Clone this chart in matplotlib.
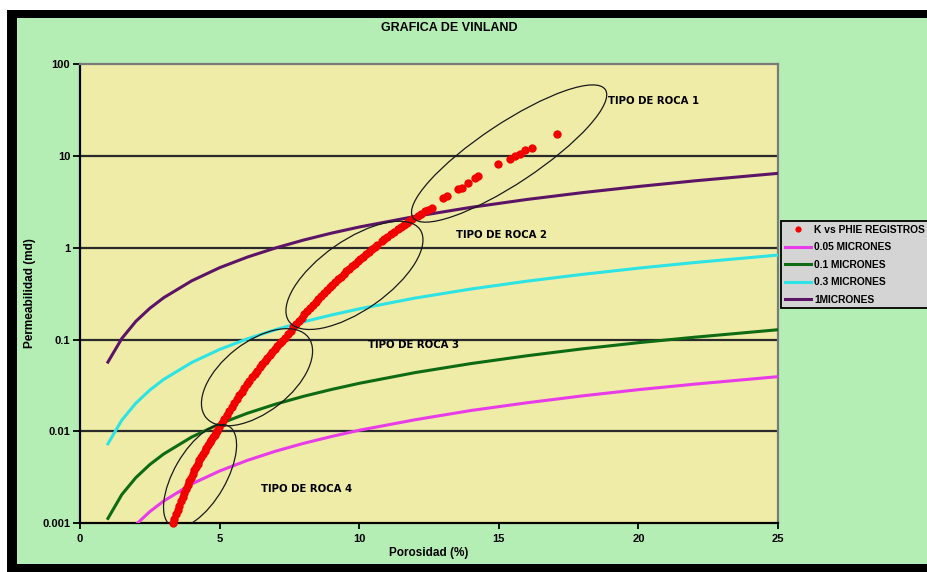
import matplotlib
matplotlib.use("Agg")
import matplotlib.pyplot as plt
from matplotlib.patches import Ellipse, Rectangle
from matplotlib.transforms import ScaledTranslation
from matplotlib.lines import Line2D

# ---------------- data ----------------
phi_curve = [1, 1.5, 2, 2.5, 3, 4, 5, 6, 7, 8, 9, 10, 12, 14, 16, 18, 20, 22, 25]
k_1um = [0.0569, 0.103, 0.158, 0.219, 0.286, 0.436, 0.606, 0.792, 0.993, 1.21,
         1.44, 1.68, 2.19, 2.75, 3.35, 3.98, 4.64, 5.34, 6.45]
k_03um = [0.00734, 0.0133, 0.0203, 0.0282, 0.0369, 0.0563, 0.0781, 0.102, 0.128,
          0.156, 0.185, 0.216, 0.283, 0.355, 0.432, 0.513, 0.599, 0.689, 0.832]
k_01um = [0.00113, 0.00206, 0.00314, 0.00436, 0.00569, 0.00869, 0.0121, 0.0158,
          0.0198, 0.0241, 0.0286, 0.0334, 0.0437, 0.0548, 0.0666, 0.0793, 0.0925,
          0.106, 0.128]
phi_005 = [2, 2.5, 3, 4, 5, 6, 7, 8, 9, 10, 12, 14, 16, 18, 20, 22, 25]
k_005um = [0.000966, 0.00134, 0.00175, 0.00268, 0.00371, 0.00485, 0.00609, 0.00741,
           0.00880, 0.0103, 0.0134, 0.0169, 0.0205, 0.0244, 0.0285, 0.0327, 0.0395]

# K vs PHIE REGISTROS (log samples)
phie_reg = [3.32, 3.38, 3.44, 3.50, 3.56, 3.62, 3.68, 3.74, 3.80, 3.86, 3.92, 3.98,
            4.04, 4.10, 4.16, 4.22, 4.28, 4.34, 4.40, 4.46, 4.52, 4.58, 4.64, 4.70,
            4.76, 4.82, 4.88,
            4.90, 4.99, 5.08, 5.17, 5.26, 5.35, 5.44, 5.53, 5.62, 5.71, 5.80, 5.89,
            5.98, 6.07, 6.16, 6.25, 6.34, 6.43, 6.52, 6.61, 6.70, 6.79, 6.88, 6.97,
            7.06, 7.15, 7.24,
            7.34, 7.44, 7.54, 7.64, 7.74, 7.84, 7.94, 8.04, 8.14, 8.24, 8.34, 8.44,
            8.54, 8.64, 8.74, 8.84, 8.94, 9.04, 9.14, 9.24, 9.34, 9.44, 9.54, 9.64,
            9.74, 9.84, 9.94, 10.04, 10.14, 10.24, 10.34,
            10.45, 10.55, 10.65, 10.80, 10.90, 11.00, 11.15, 11.25, 11.40, 11.50,
            11.60, 11.70, 11.80, 11.90, 12.10, 12.20,
            12.36, 12.45, 12.61, 13.00, 13.14, 13.54, 13.68, 13.90, 14.15, 14.25,
            14.97, 15.40, 15.58, 15.76, 15.94, 16.19, 17.08]
k_reg = [0.00100, 0.00112, 0.00126, 0.00140, 0.00156, 0.00174, 0.00193, 0.00214,
         0.00236, 0.00260, 0.00286, 0.00314, 0.00344, 0.00376, 0.00410, 0.00446,
         0.00484, 0.00525, 0.00568, 0.00612, 0.00659, 0.00708, 0.00759, 0.00812,
         0.00867, 0.00923, 0.00981,
         0.0100, 0.0111, 0.0124, 0.0137, 0.0152, 0.0168, 0.0186, 0.0205, 0.0226,
         0.0248, 0.0272, 0.0298, 0.0326, 0.0356, 0.0388, 0.0423, 0.0460, 0.0499,
         0.0540, 0.0585, 0.0632, 0.0681, 0.0734, 0.0788, 0.0847, 0.0907, 0.0971,
         0.105, 0.115, 0.125, 0.136, 0.148, 0.160, 0.173, 0.188, 0.203, 0.220,
         0.237, 0.256, 0.276, 0.297, 0.320, 0.343, 0.369, 0.395, 0.424, 0.454,
         0.485, 0.518, 0.553, 0.590, 0.628, 0.669, 0.711, 0.755, 0.802, 0.850,
         0.900,
         0.959, 1.016, 1.076, 1.173, 1.243, 1.309, 1.413, 1.486, 1.603, 1.687,
         1.774, 1.866, 1.963, 2.065, 2.20, 2.30,
         2.52, 2.60, 2.72, 3.50, 3.67, 4.38, 4.49, 5.09, 5.77, 6.06,
         8.19, 9.27, 10.0, 10.5, 11.6, 12.2, 17.3]

series_labels = ["K vs PHIE REGISTROS", "0.05 MICRONES", "0.1 MICRONES",
                 "0.3 MICRONES", "1MICRONES"]
y_ticks = [0.001, 0.01, 0.1, 1, 10, 100]
y_ticklabels = ["0.001", "0.01", "0.1", "1", "10", "100"]
x_ticks = [0, 5, 10, 15, 20, 25]

rock_labels = ["TIPO DE ROCA 1", "TIPO DE ROCA 2", "TIPO DE ROCA 3", "TIPO DE ROCA 4"]
rock_label_pos = [(18.9, 40.0), (13.45, 1.36), (10.3, 0.087), (6.5, 0.00236)]
# ellipses: centre (data), width px, height px, angle deg
ellipses = [((15.37, 10.6), 231, 60, 33.6),
            ((9.83, 0.50), 160, 70, 35),
            ((6.34, 0.0389), 130, 70, 38),
            ((4.30, 0.00327), 115, 52, 60)]

# ---------------- styling ----------------
BG_GREEN = "#B4EEB4"
PLOT_BG = "#EFECA8"
NARROW = ["Liberation Sans Narrow", "Liberation Sans", "DejaVu Sans"]

W, H = 927, 572
fig = plt.figure(figsize=(W / 100, H / 100), dpi=100)
fig.patch.set_facecolor(BG_GREEN)

# frame decorations (white strip + black borders)
fig.add_artist(Rectangle((0, 1 - 10 / H), 1, 10 / H, transform=fig.transFigure,
                         facecolor="white", edgecolor="none", zorder=0))
fig.add_artist(Rectangle((5 / W, 1 - 18 / H), 1, 8 / H, transform=fig.transFigure,
                         facecolor="black", edgecolor="none", zorder=0))
fig.add_artist(Rectangle((0, 0), 7 / W, 1 - 10 / H, transform=fig.transFigure,
                         facecolor="white", edgecolor="none", zorder=0))
fig.add_artist(Rectangle((7 / W, 0), 10 / W, 1 - 10 / H, transform=fig.transFigure,
                         facecolor="black", edgecolor="none", zorder=0))
fig.add_artist(Rectangle((7 / W, 0), 1, 8 / H, transform=fig.transFigure,
                         facecolor="black", edgecolor="none", zorder=0))

ax = fig.add_axes([80 / W, 1 - 523.3 / H, (778 - 80) / W, (523.3 - 64) / H])
ax.set_facecolor(PLOT_BG)
ax.set_yscale("log")
ax.set_xlim(0, 25)
ax.set_ylim(0.001, 100)

for yt in y_ticks[1:-1]:
    ax.axhline(yt, color="#2a2a2a", lw=1.6, zorder=1)

ax.plot(phi_005, k_005um, color="#E83CE8", lw=2.2, zorder=3, label=series_labels[1])
ax.plot(phi_curve, k_01um, color="#0E6B14", lw=2.2, zorder=3, label=series_labels[2])
ax.plot(phi_curve, k_03um, color="#2EE3E3", lw=2.2, zorder=3, label=series_labels[3])
ax.plot(phi_curve, k_1um, color="#5C1566", lw=2.2, zorder=3, label=series_labels[4])
ax.plot(phie_reg, k_reg, "o", color="#F20000", ms=6.0, mec="none", zorder=4,
        label=series_labels[0], clip_on=False)

for (cx, cy), w, h, ang in ellipses:
    tr = fig.dpi_scale_trans + ScaledTranslation(cx, cy, ax.transData)
    ax.add_artist(Ellipse((0, 0), w / 100, h / 100, angle=ang, transform=tr,
                          fill=False, edgecolor="#1a1a1a", lw=0.9, zorder=6))

for txt, (tx, ty) in zip(rock_labels, rock_label_pos):
    ax.text(tx, ty, txt, fontsize=7.3, fontweight="heavy", family="DejaVu Sans",
            ha="left", va="center", color="black", zorder=7)

# axes, ticks
for s in ["left", "bottom"]:
    ax.spines[s].set_color("black")
    ax.spines[s].set_linewidth(1.6)
for s in ["top", "right"]:
    ax.spines[s].set_color("#7a7a7a")
    ax.spines[s].set_linewidth(1.6)

ax.set_yticks(y_ticks)
ax.set_yticklabels(y_ticklabels)
ax.yaxis.set_minor_locator(matplotlib.ticker.NullLocator())
ax.set_xticks(x_ticks)
ax.set_xticklabels([str(v) for v in x_ticks])
ax.tick_params(axis="y", direction="out", length=5, width=1.3, pad=2,
               labelsize=8)
ax.tick_params(axis="x", direction="out", length=4, width=1.3, pad=4,
               labelsize=8)
for lab in ax.get_xticklabels() + ax.get_yticklabels():
    lab.set_family(NARROW)
    lab.set_fontweight("bold")

fig.text(449 / W, 1 - 28 / H, "GRAFICA DE VINLAND", ha="center", va="center",
         fontsize=9, fontweight="bold", family=NARROW)
fig.text(30 / W, 1 - 293.5 / H, "Permeabilidad (md)", rotation=90, ha="center",
         va="center", fontsize=8.5, fontweight="bold", family=NARROW)
fig.text(429 / W, 1 - 553 / H, "Porosidad (%)", ha="center", va="center",
         fontsize=8.5, fontweight="bold", family=NARROW)

# legend (frame runs past the right edge, as in the reference)
handles = [Line2D([], [], ls="none", marker="o", color="#F20000", ms=4.5, mec="none"),
           Line2D([], [], color="#E83CE8", lw=2.2),
           Line2D([], [], color="#0E6B14", lw=2.2),
           Line2D([], [], color="#2EE3E3", lw=2.2),
           Line2D([], [], color="#5C1566", lw=2.2)]
leg = fig.legend(handles, series_labels, loc="upper left", mode="expand",
                 bbox_to_anchor=(781 / W, 1 - 222 / H, 170 / W, 0.001),
                 bbox_transform=fig.transFigure,
                 frameon=True, fancybox=False, shadow=False, borderaxespad=0,
                 borderpad=0.35, labelspacing=0.72, handlelength=2.6,
                 handletextpad=0.3, prop={"family": "Liberation Sans", "weight": "bold",
                                          "size": 7.4})
leg.get_frame().set_facecolor("#D4D4D4")
leg.get_frame().set_edgecolor("black")
leg.get_frame().set_linewidth(1.3)
leg.get_frame().set_alpha(1)

fig.savefig("out.png", dpi=100, facecolor=fig.get_facecolor())
